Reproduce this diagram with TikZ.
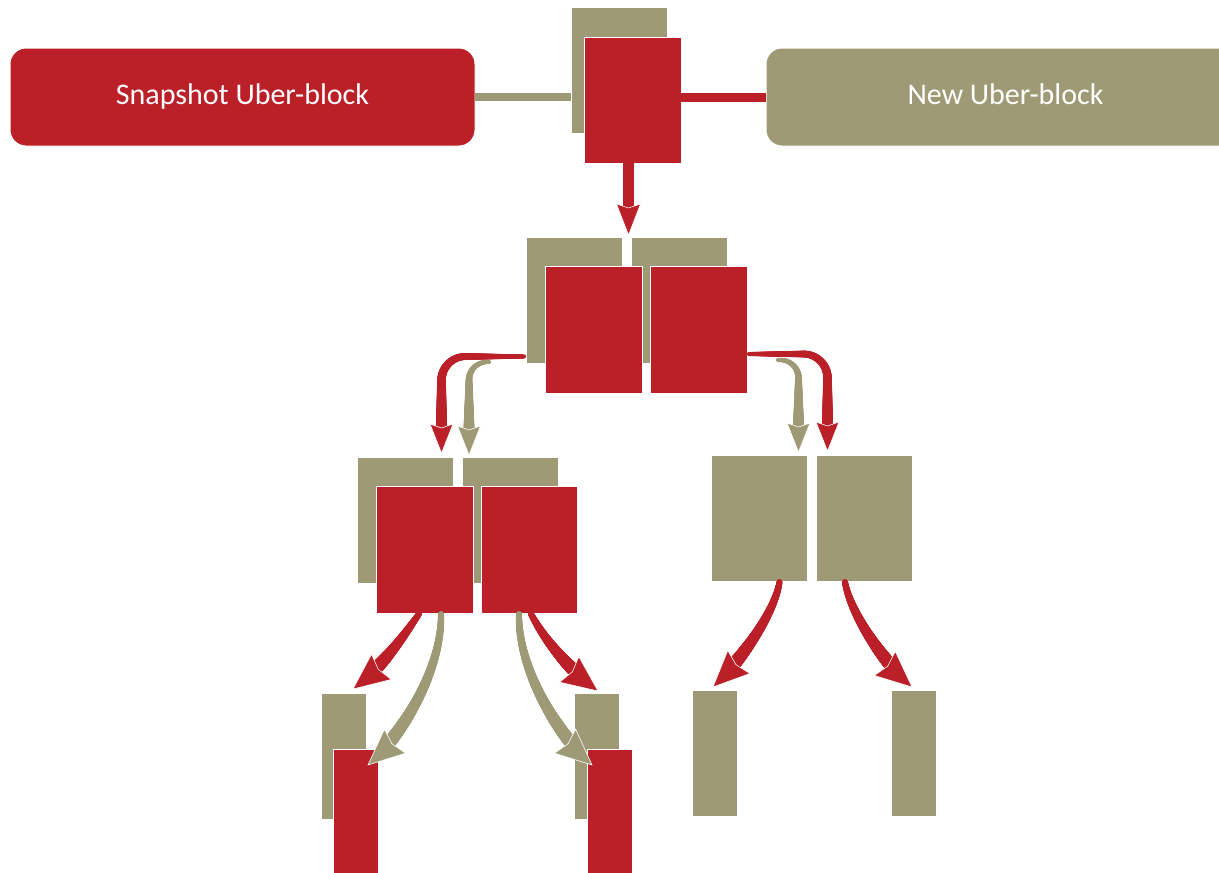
\documentclass[tikz,border=0pt]{standalone}
\usepackage{fontspec}
\setmainfont{Carlito}
\usetikzlibrary{decorations.markings,calc}
\definecolor{ubred}{RGB}{187,31,40}
\definecolor{ubkh}{RGB}{158,154,118}

\tikzset{
  blk/.style={inner sep=0pt, outer sep=0pt, draw=white, line width=1pt, anchor=north west},
  redblk/.style={blk, fill=ubred},
  khblk/.style={blk, fill=ubkh},
  wide/.style={minimum width=96pt, minimum height=126pt},
  slim/.style={minimum width=45pt, minimum height=126pt},
  banner/.style={rounded corners=16pt, inner sep=0pt, outer sep=0pt,
    minimum height=98pt, anchor=north west, text=white,
    font=\fontsize{30}{36}\selectfont, text height=21pt, text depth=6pt,
    draw=white, line width=1pt},
  bar/.style={line width=#1},
  % tapered shaft: colour, start width, end width, length kept free for the head
  shaft/.style n args={4}{decoration={markings,
      mark=between positions 0 and -#4pt step 0.4pt with {
        \pgfmathsetmacro\trad{(#2+(#3-#2)*(\pgfkeysvalueof{/pgf/decoration/mark info/distance from start})/(\pgfdecoratedpathlength-#4))/2}
        \fill[#1] (0pt,0pt) circle[radius=\trad pt];
      }}, decorate},
  headtip/.style={draw=white, line width=0.6pt, line join=miter}
}

% arrow head with a slightly swept back edge:
% colour, tip, point behind the tip, length, half-width
\newcommand\arrowheadat[5]{%
  \coordinate (hb) at ($(#2)!#4pt!(#3)$);
  \coordinate (hn) at ($(#2)!#4pt-4pt!(#3)$);
  \filldraw[headtip, fill=#1]
    (#2) -- ($(hb)!#5pt!90:(#2)$) -- (hn) -- ($(hb)!#5pt!-90:(#2)$) -- cycle;}

\begin{document}
\begin{tikzpicture}[x=1pt,y=-1pt]
\useasboundingbox (0,0) rectangle (1219,873);
\clip (0,0) rectangle (1219,873);

% uber-blocks
\node[banner, fill=ubred, minimum width=465pt] (snap) at (10,48) {Snapshot Uber-block};
\node[banner, fill=ubkh, minimum width=479pt] (newub) at (766,48) {New Uber-block};

% root
\node[khblk, wide] (k0) at (571,7) {};
\node[redblk, wide, minimum width=97pt] (r0) at (584,37) {};

% second level
\node[khblk, wide] (k2a) at (526,237) {};
\node[khblk, wide] (k2b) at (631,237) {};
\node[redblk, wide, minimum width=97pt, minimum height=127pt] (r2a) at (545,266) {};
\node[redblk, wide, minimum width=97pt, minimum height=127pt] (r2b) at (650,266) {};

% third level
\node[khblk, wide] (k3a) at (357,457) {};
\node[khblk, wide] (k3b) at (462,457) {};
\node[redblk, wide, minimum width=97pt, minimum height=127pt] (r3a) at (376,486) {};
\node[redblk, wide, minimum height=127pt] (r3b) at (481,486) {};
\node[khblk, wide] (k3c) at (711,455) {};
\node[khblk, wide] (k3d) at (816,455) {};

% leaves
\node[khblk, slim] (k4a) at (321,693) {};
\node[redblk, slim, minimum height=140pt] (r4a) at (333,749) {};
\node[khblk, slim] (k4b) at (574,693) {};
\node[redblk, slim, minimum height=140pt] (r4b) at (587,749) {};
\node[khblk, slim] (k4c) at (692,690) {};
\node[khblk, slim] (k4d) at (891,690) {};

% links to the uber-blocks
\draw[ubkh, bar=8pt] (snap.east) -- (snap.east -| k0.west);
\draw[ubred, bar=9pt] (newub.west -| r0.east) -- (newub.west);

% root to second level
\coordinate (a0s) at ([xshift=-4pt,yshift=6pt]r0.south);
\coordinate (a0e) at (628.5,235);
\path[shaft={ubred}{11}{11}{29}] (a0s) -- (a0e);
\arrowheadat{ubred}{a0e}{a0s}{31}{12}

% second level to third level
\coordinate (b1s) at (524,356.5);  \coordinate (b1e) at (441.5,453);
\coordinate (b2s) at (489,362);    \coordinate (b2e) at (469,455);
\coordinate (b3s) at (778,360);    \coordinate (b3e) at (798.5,452);
\coordinate (b4s) at (749,354);    \coordinate (b4e) at (827.5,451);
\path[shaft={ubkh}{4}{11}{26}, rounded corners=18pt] (b2s) -| (b2e);
\arrowheadat{ubkh}{b2e}{b2e |- b2s}{29}{11.5}
\path[shaft={ubkh}{4}{11}{26}, rounded corners=18pt] (b3s) -| (b3e);
\arrowheadat{ubkh}{b3e}{b3e |- b3s}{29}{11.5}
\path[shaft={ubred}{4}{11}{26}, rounded corners=24pt] (b1s) -| (b1e);
\arrowheadat{ubred}{b1e}{b1e |- b1s}{29}{11.5}
\path[shaft={ubred}{4}{11}{26}, rounded corners=24pt] (b4s) -| (b4e);
\arrowheadat{ubred}{b4e}{b4e |- b4s}{29}{11.5}

% third level to leaves
\coordinate (c1s) at (419,614);   \coordinate (c1b) at (385,664);   \coordinate (c1e) at (353,689);
\coordinate (c2s) at (441,614);   \coordinate (c2b) at (402,735);   \coordinate (c2e) at (368,765);
\coordinate (c3s) at (519,614);   \coordinate (c3b) at (558,735);   \coordinate (c3e) at (592,765);
\coordinate (c4s) at (531,614);   \coordinate (c4b) at (566,667);   \coordinate (c4e) at (598,691);
\coordinate (c5s) at (779.5,582); \coordinate (c5b) at (742,659);   \coordinate (c5e) at (713,687);
\coordinate (c6s) at (845,582);   \coordinate (c6b) at (882,661);   \coordinate (c6e) at (912,687);

\path[shaft={ubred}{6}{13}{33}] (c1s) .. controls (404,635) and (c1b) .. (c1e);
\arrowheadat{ubred}{c1e}{c1b}{36}{16}
\path[shaft={ubred}{6}{13}{33}] (c4s) .. controls (543,637) and (c4b) .. (c4e);
\arrowheadat{ubred}{c4e}{c4b}{36}{16}
\path[shaft={ubkh}{6}{13}{33}] (c2s) .. controls (442,670) and (c2b) .. (c2e);
\arrowheadat{ubkh}{c2e}{c2b}{36}{16}
\path[shaft={ubkh}{6}{13}{33}] (c3s) .. controls (518,670) and (c3b) .. (c3e);
\arrowheadat{ubkh}{c3e}{c3b}{36}{16}
\path[shaft={ubred}{6}{13}{33}] (c5s) .. controls (775,612) and (c5b) .. (c5e);
\arrowheadat{ubred}{c5e}{c5b}{36}{16}
\path[shaft={ubred}{6}{13}{33}] (c6s) .. controls (850,612) and (c6b) .. (c6e);
\arrowheadat{ubred}{c6e}{c6b}{36}{16}
\end{tikzpicture}
\end{document}
